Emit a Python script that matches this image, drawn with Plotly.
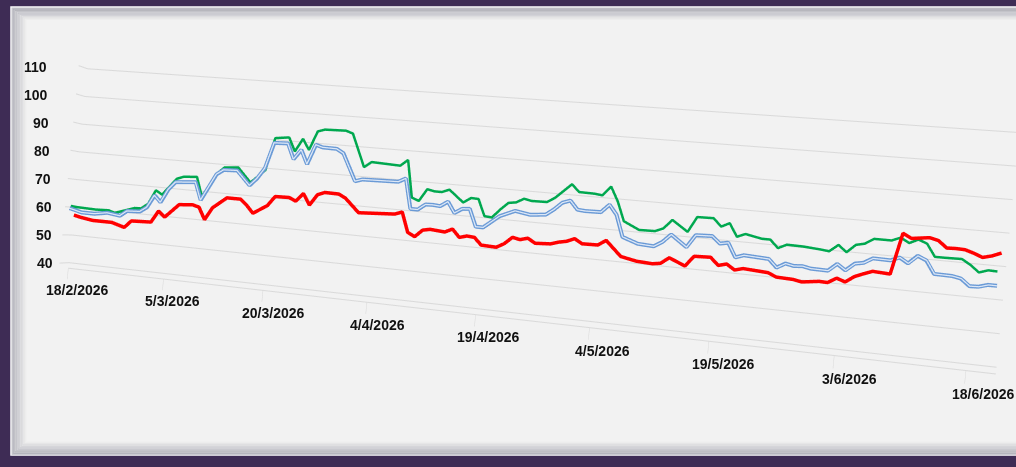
import pandas as pd
import plotly.graph_objects as go

START = pd.Timestamp("2026-02-18")

# day offsets from 18/2/2026 and values
green_day = [0, 1, 4, 6, 7, 9, 10, 11, 12, 13, 14, 16, 17, 19, 20, 22, 23, 25, 27, 29,
             30, 32, 33, 34, 35, 36, 37, 40, 41, 43, 44, 48, 49, 50, 51, 52, 53, 54, 55, 57,
             58, 59, 60, 61, 62, 63, 64, 65, 66, 68, 69, 70, 71, 72, 74, 75, 76, 77, 78, 80,
             82, 83, 84, 86, 87, 89, 90, 91, 92, 93, 95, 96, 97, 98, 100, 102, 103, 104, 105, 106,
             107, 108, 110, 111, 112, 113, 114, 115, 116, 118, 119, 120, 121, 122]
green_val = [60.4, 60.2, 60.0, 60.2, 59.5, 61.1, 61.9, 62.0, 63.8, 68.8, 67.5, 73.5, 74.4, 74.8, 68.2, 76.7, 78.9, 79.3, 74.5, 79.2,
             90.4, 91.0, 86.4, 90.9, 87.3, 93.8, 94.6, 94.8, 94.0, 83.1, 85.0, 84.6, 86.7, 74.4, 73.5, 77.6, 77.1, 77.1, 78.1, 74.3,
             76.0, 75.9, 70.5, 70.3, 73.1, 75.5, 75.9, 77.3, 76.8, 76.9, 78.5, 80.9, 83.3, 81.0, 80.9, 80.6, 83.6, 79.1, 73.0, 70.7,
             70.8, 71.9, 74.8, 71.5, 76.4, 76.5, 74.1, 75.4, 71.4, 72.5, 71.5, 71.5, 69.1, 70.4, 70.3, 69.9, 69.6, 71.8, 69.8, 72.3,
             72.9, 74.6, 74.6, 75.7, 74.3, 75.6, 74.6, 70.9, 70.9, 71.0, 69.5, 67.5, 68.4, 68.3]

blue_day = [0, 2, 4, 6, 8, 9, 11, 12, 13, 14, 15, 16, 19, 20, 22, 23, 25, 27, 28, 29,
            30, 32, 33, 34, 35, 36, 37, 39, 40, 42, 43, 48, 49, 50, 51, 52, 53, 54, 55, 56,
            57, 58, 59, 60, 62, 63, 64, 66, 68, 69, 70, 71, 72, 73, 75, 76, 77, 78, 80, 82,
            83, 84, 86, 87, 89, 90, 91, 92, 93, 96, 97, 98, 99, 100, 101, 103, 104, 105, 106, 107,
            108, 110, 111, 112, 113, 114, 115, 117, 118, 119, 120, 121, 122]
blue_val = [59.6, 58.5, 58.5, 59.3, 58.7, 60.6, 60.9, 62.6, 67.0, 64.8, 69.5, 72.3, 72.9, 66.9, 76.3, 78.0, 78.2, 73.5, 76.1, 79.8,
            88.7, 88.9, 83.7, 87.1, 82.4, 89.2, 88.5, 88.4, 87.1, 78.1, 78.9, 79.2, 80.5, 70.6, 70.6, 72.5, 72.6, 72.4, 74.1, 70.6,
            72.2, 72.4, 66.8, 66.8, 70.9, 72.0, 73.1, 72.3, 72.8, 74.7, 77.1, 78.0, 75.3, 75.1, 75.2, 77.8, 74.8, 68.0, 66.3, 66.0,
            67.6, 70.2, 66.7, 70.7, 70.9, 68.8, 69.3, 65.0, 65.9, 65.5, 63.1, 64.6, 64.1, 64.3, 63.8, 63.7, 66.0, 64.3, 66.6, 67.1,
            68.7, 68.6, 69.7, 68.2, 70.7, 69.6, 65.8, 65.7, 65.2, 63.2, 63.3, 64.1, 64.1]

red_day = [1, 2, 4, 7, 9, 10, 13, 14, 15, 17, 19, 20, 21, 22, 24, 26, 27, 28, 30, 31,
           33, 34, 35, 36, 37, 38, 40, 41, 43, 48, 49, 50, 51, 52, 53, 55, 56, 57, 58, 59,
           60, 62, 63, 64, 65, 66, 67, 69, 70, 71, 72, 73, 75, 76, 78, 80, 82, 83, 84, 86,
           87, 89, 90, 91, 92, 93, 96, 97, 99, 100, 102, 103, 104, 105, 106, 107, 108, 110, 111, 112,
           114, 115, 116, 117, 118, 119, 120, 121, 122]
red_val = [57.3, 56.8, 56.1, 56.1, 54.8, 57.3, 57.6, 61.7, 59.8, 64.6, 65.0, 64.4, 60.3, 64.6, 68.5, 68.5, 66.6, 64.1, 67.2, 70.5,
           70.6, 69.6, 72.4, 68.7, 72.4, 73.4, 73.3, 72.1, 67.7, 68.4, 69.3, 62.8, 61.6, 64.0, 64.5, 64.1, 65.3, 62.8, 63.5, 63.3,
           61.0, 60.8, 62.2, 64.5, 64.0, 64.7, 63.3, 63.6, 64.4, 64.9, 66.0, 64.6, 64.7, 66.4, 61.8, 60.8, 60.5, 60.9, 62.9, 60.8,
           64.1, 64.3, 62.0, 62.7, 61.1, 61.8, 61.3, 60.2, 60.0, 59.5, 60.2, 60.1, 61.7, 60.8, 62.7, 63.8, 64.8, 64.5, 77.0, 75.7,
           76.4, 75.8, 73.8, 73.9, 73.8, 73.0, 72.0, 72.7, 73.8]

tick_day = [0, 15, 30, 45, 60, 75, 90, 105, 120]
value_ticks = [40, 50, 60, 70, 80, 90, 100, 110]

W, H = 1016, 467
fig = go.Figure()

# the x axis counts days since 18/2/2026; tick labels are the matching calendar dates
LABEL_DEPTH = 0.5


def add_line(days, vals, depth, color, width):
    fig.add_trace(go.Scatter3d(
        x=days, y=[depth] * len(days), z=vals, mode="lines",
        line=dict(color=color, width=width), hoverinfo="skip", showlegend=False))


add_line(green_day, green_val, 0.6, "#00a84f", 5)
add_line(blue_day, blue_val, 0.5, "#6a9ad6", 8)
add_line(blue_day, blue_val, 0.45, "#dce7f6", 2.5)
add_line(red_day, red_val, 0.35, "#ff0000", 7)

label_font = dict(family="Liberation Sans, Arial, sans-serif", size=14, color="#111111", weight="bold")
annotations = []
for n in tick_day:
    d = START + pd.Timedelta(days=n)
    annotations.append(dict(x=n, y=LABEL_DEPTH, z=38, text=f"{d.day}/{d.month}/{d.year}", showarrow=False,
                            xanchor="center", yanchor="top", xshift=13, yshift=-12, font=label_font))
for v in value_ticks:
    annotations.append(dict(x=0, y=LABEL_DEPTH, z=v, text=str(v), showarrow=False,
                            xanchor="right", yanchor="middle", xshift=-9 - (v - 40) / 70 * 25,
                            font=label_font))

grid = "#d9d9d9"
axis_common = dict(showbackground=False, showspikes=False, title=dict(text=""), zeroline=False)
scene = dict(
    domain=dict(x=[0, 1], y=[0, 1]),
    bgcolor="rgba(0,0,0,0)",
    dragmode="orbit",
    aspectmode="manual",
    aspectratio=dict(x=1.676, y=0.02, z=0.394),
    camera=dict(eye=dict(x=0.138, y=-0.993, z=-0.046),
                center=dict(x=0.023, y=0, z=-0.046),
                up=dict(x=-0.0967, y=0, z=0.9953),
                projection=dict(type="perspective")),
    xaxis=dict(range=[0, 123.3], tickvals=tick_day, showgrid=False, showline=True, linecolor=grid,
               linewidth=2, ticks="outside", ticklen=6, tickcolor=grid, showticklabels=False, **axis_common),
    yaxis=dict(range=[0, 1], showgrid=False, showline=False, ticks="", showticklabels=False, **axis_common),
    zaxis=dict(range=[38, 110], tickvals=value_ticks, showgrid=True, gridcolor=grid, gridwidth=2,
               showline=False, ticks="", showticklabels=False, **axis_common),
    annotations=annotations,
)

# frame: purple border, light panel with soft inner shadow
shapes = []
px = lambda x: x / W
py = lambda y: 1 - y / H
shapes.append(dict(type="rect", xref="paper", yref="paper", x0=px(11), x1=px(1030), y0=py(455), y1=py(7),
                   fillcolor="#f2f2f2", line=dict(color="#ffffff", width=1.5), layer="below"))
for i in range(9):
    a = 0.30 * (1 - i / 9)
    shapes.append(dict(type="rect", xref="paper", yref="paper",
                       x0=px(12.5 + 1.6 * i), x1=px(1030), y0=py(454 - 1.4 * i), y1=py(8.5 + 1.3 * i),
                       fillcolor="rgba(0,0,0,0)", line=dict(color=f"rgba(90,90,110,{a:.3f})", width=2),
                       layer="below"))

fig.update_layout(
    width=W, height=H, autosize=False,
    margin=dict(l=0, r=0, t=0, b=0),
    paper_bgcolor="#3e2c55",
    scene=scene,
    shapes=shapes,
    hovermode=False,
    showlegend=False,
)

fig.write_html("out.html", config={"displayModeBar": False},
               post_script="document.body.style.margin='0';document.body.style.background='#3e2c55';")
